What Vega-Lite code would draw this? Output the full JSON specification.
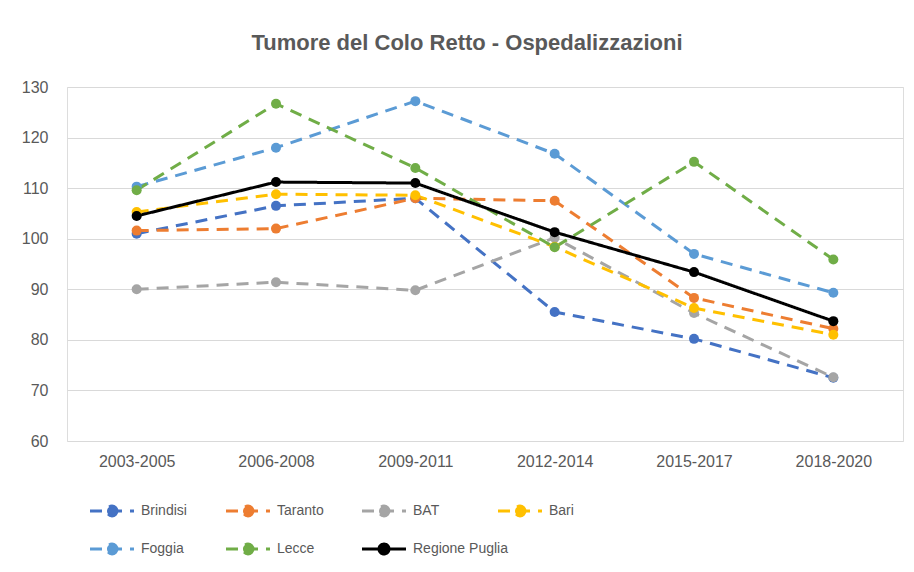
{
  "$schema": "https://vega.github.io/schema/vega-lite/v6.json",
  "autosize": {"type": "none"},
  "padding": {"left": 67, "top": 87, "right": 11, "bottom": 131},
  "width": 836,
  "height": 354,
  "background": "white",
  "title": {
    "text": "Tumore del Colo Retto - Ospedalizzazioni",
    "font": "Liberation Sans",
    "fontSize": 22,
    "fontWeight": "bold",
    "color": "#595959",
    "anchor": "middle",
    "dx": -18,
    "offset": 24
  },
  "data": {
    "values": [
      {"period": "2003-2005", "series": "Brindisi", "value": 101},
      {"period": "2006-2008", "series": "Brindisi", "value": 106.5},
      {"period": "2009-2011", "series": "Brindisi", "value": 108},
      {"period": "2012-2014", "series": "Brindisi", "value": 85.5},
      {"period": "2015-2017", "series": "Brindisi", "value": 80.2},
      {"period": "2018-2020", "series": "Brindisi", "value": 72.5},
      {"period": "2003-2005", "series": "Taranto", "value": 101.6},
      {"period": "2006-2008", "series": "Taranto", "value": 102},
      {"period": "2009-2011", "series": "Taranto", "value": 108},
      {"period": "2012-2014", "series": "Taranto", "value": 107.5},
      {"period": "2015-2017", "series": "Taranto", "value": 88.3},
      {"period": "2018-2020", "series": "Taranto", "value": 82.2},
      {"period": "2003-2005", "series": "BAT", "value": 90},
      {"period": "2006-2008", "series": "BAT", "value": 91.4},
      {"period": "2009-2011", "series": "BAT", "value": 89.8},
      {"period": "2012-2014", "series": "BAT", "value": 100.2},
      {"period": "2015-2017", "series": "BAT", "value": 85.3},
      {"period": "2018-2020", "series": "BAT", "value": 72.6},
      {"period": "2003-2005", "series": "Bari", "value": 105.3},
      {"period": "2006-2008", "series": "Bari", "value": 108.8},
      {"period": "2009-2011", "series": "Bari", "value": 108.6},
      {"period": "2012-2014", "series": "Bari", "value": 98.4},
      {"period": "2015-2017", "series": "Bari", "value": 86.3},
      {"period": "2018-2020", "series": "Bari", "value": 81},
      {"period": "2003-2005", "series": "Foggia", "value": 110.3},
      {"period": "2006-2008", "series": "Foggia", "value": 118},
      {"period": "2009-2011", "series": "Foggia", "value": 127.2},
      {"period": "2012-2014", "series": "Foggia", "value": 116.8},
      {"period": "2015-2017", "series": "Foggia", "value": 97},
      {"period": "2018-2020", "series": "Foggia", "value": 89.3},
      {"period": "2003-2005", "series": "Lecce", "value": 109.6},
      {"period": "2006-2008", "series": "Lecce", "value": 126.7},
      {"period": "2009-2011", "series": "Lecce", "value": 114},
      {"period": "2012-2014", "series": "Lecce", "value": 98.3},
      {"period": "2015-2017", "series": "Lecce", "value": 115.2},
      {"period": "2018-2020", "series": "Lecce", "value": 95.9},
      {"period": "2003-2005", "series": "Regione Puglia", "value": 104.5},
      {"period": "2006-2008", "series": "Regione Puglia", "value": 111.2},
      {"period": "2009-2011", "series": "Regione Puglia", "value": 111},
      {"period": "2012-2014", "series": "Regione Puglia", "value": 101.3},
      {"period": "2015-2017", "series": "Regione Puglia", "value": 93.4},
      {"period": "2018-2020", "series": "Regione Puglia", "value": 83.7}
    ]
  },
  "encoding": {
    "x": {
      "field": "period",
      "type": "ordinal",
      "scale": {"type": "point", "padding": 0.5},
      "axis": {
        "title": null,
        "labelAngle": 0,
        "domain": false,
        "ticks": false,
        "labelPadding": 12,
        "labelFont": "Liberation Sans",
        "labelFontSize": 16,
        "labelColor": "#595959"
      }
    },
    "y": {
      "field": "value",
      "type": "quantitative",
      "scale": {"domain": [60, 130], "nice": false, "zero": false},
      "axis": {
        "title": null,
        "values": [60, 70, 80, 90, 100, 110, 120, 130],
        "domain": false,
        "ticks": false,
        "labelPadding": 19,
        "labelFont": "Liberation Sans",
        "labelFontSize": 16,
        "labelColor": "#595959",
        "gridColor": "#d9d9d9",
        "gridWidth": 1
      }
    },
    "color": {
      "field": "series",
      "type": "nominal",
      "scale": {
        "domain": ["Brindisi", "Taranto", "BAT", "Bari", "Foggia", "Lecce", "Regione Puglia"],
        "range": ["#4472C4", "#ED7D31", "#A5A5A5", "#FFC000", "#5B9BD5", "#70AD47", "#000000"]
      },
      "legend": {
        "title": null,
        "orient": "none",
        "legendX": 38,
        "legendY": 417,
        "direction": "horizontal",
        "columns": 4,
        "gridAlign": "all",
        "columnPadding": -16,
        "rowPadding": 16,
        "symbolType": "M-4.4,0H4.4M1,0A1,1,0,1,1,-1,0A1,1,0,1,1,1,0Z",
        "symbolSize": 100,
        "symbolStrokeWidth": 3,
        "labelOffset": 22,
        "labelFont": "Liberation Sans",
        "labelFontSize": 14,
        "labelColor": "#595959",
        "encode": {
          "symbols": {
            "update": {
              "fill": {"scale": "color", "field": "value"},
              "stroke": {"scale": "color", "field": "value"},
              "strokeWidth": {"signal": "datum.value === 'Regione Puglia' ? 2 : 3"},
              "strokeDash": {"signal": "datum.value === 'Regione Puglia' ? [1, 0] : [6, 4]"},
              "opacity": {"value": 1}
            }
          }
        }
      }
    }
  },
  "layer": [
    {
      "mark": {"type": "line"},
      "encoding": {
        "strokeDash": {
          "field": "series",
          "type": "nominal",
          "scale": {
            "domain": ["Brindisi", "Taranto", "BAT", "Bari", "Foggia", "Lecce", "Regione Puglia"],
            "range": [[12, 8], [12, 8], [12, 8], [12, 8], [12, 8], [12, 8], [1, 0]]
          },
          "legend": null
        },
        "strokeWidth": {
          "field": "series",
          "type": "nominal",
          "scale": {
            "domain": ["Brindisi", "Taranto", "BAT", "Bari", "Foggia", "Lecce", "Regione Puglia"],
            "range": [3, 3, 3, 3, 3, 3, 1.5]
          },
          "legend": null
        }
      }
    },
    {
      "mark": {"type": "point", "filled": true, "opacity": 1, "size": 100}
    }
  ]
}
